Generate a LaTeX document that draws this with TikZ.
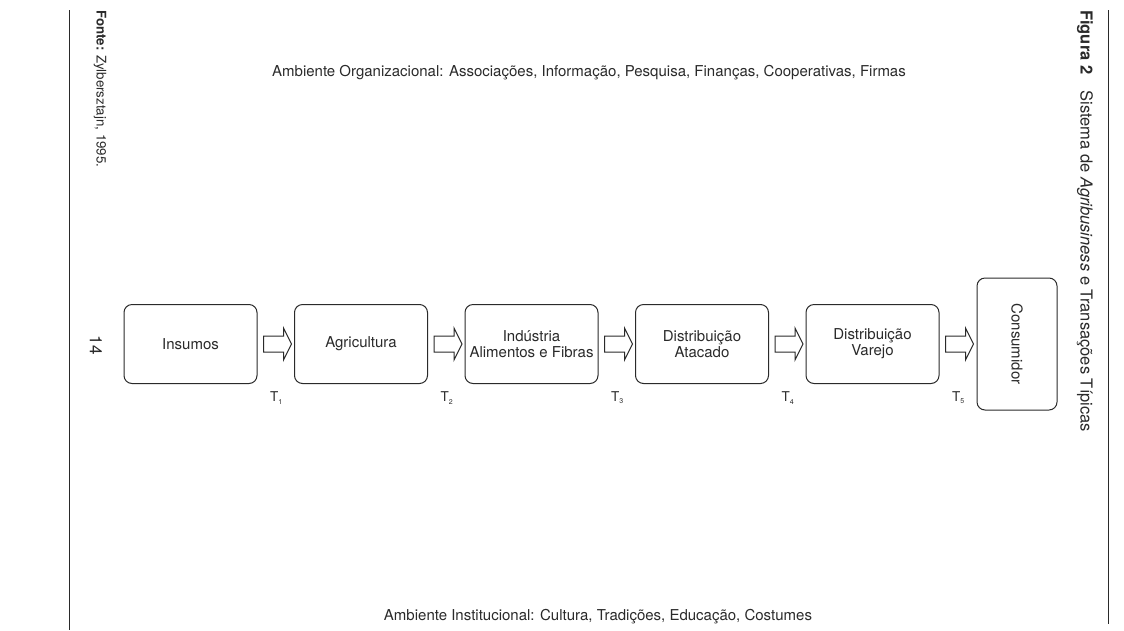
\documentclass[tikz,border=0pt]{standalone}
\usepackage{fontspec}
\setmainfont{TeX Gyre Heros}
\usetikzlibrary{calc}
\definecolor{ink}{HTML}{2A2A2A}
\tikzset{
  stage/.style={draw=ink, line width=1pt, rounded corners=8pt,
    minimum width=133pt, minimum height=79pt, inner sep=1pt,
    align=center, font=\fontsize{15}{17}\selectfont, text=ink},
  flowarrow/.style={draw=ink, line width=1pt, fill=white},
  tlabel/.style={font=\fontsize{13.5}{15}\selectfont, text=ink, inner sep=0pt},
  envtext/.style={font=\fontsize{15}{17}\selectfont, text=ink, inner sep=0pt},
  sidetext/.style={rotate=-90, text=ink, inner sep=0pt},
  rule/.style={draw=ink, line width=1pt}
}
\begin{document}
\begin{tikzpicture}[x=1pt,y=-1pt]
\useasboundingbox (0,0) rectangle (1124,630);

% page rules and margin texts
\coordinate (lt) at (69,10);
\coordinate (lb) at (69,630);
\coordinate (rt) at (1108,10);
\coordinate (rb) at (1108,624);
\draw[rule] (lt) -- (lb);
\draw[rule] (rt) -- (rb);
\node[sidetext, anchor=west, font=\fontsize{13.3}{15}\selectfont] (fonte) at (100,10)
  {\textbf{Fonte:} Zylbersztajn, 1995.};
\node[sidetext, font=\fontsize{17}{19}\selectfont] (page) at (96,345) {14};
\node[sidetext, anchor=west, font=\fontsize{16.5}{19}\selectfont] (fig) at (1085,10)
  {\textbf{Figura 2}\hspace{0.7em} Sistema de \textit{Agribusiness} e Transações Típicas};

% environments
\node[envtext] (org) at (589,73)
  {Ambiente Organizacional: Associações, Informação, Pesquisa, Finanças, Cooperativas, Firmas};
\node[envtext] (inst) at (598,617)
  {Ambiente Institucional: Cultura, Tradições, Educação, Costumes};

% chain stages
\node[stage] (b1) at (190.5,344) {Insumos};
\node[stage] (b2) at (361,344) {Agricultura};
\node[stage] (b3) at (531.5,344) {Indústria\\[-1pt]Alimentos e Fibras};
\node[stage] (b4) at (702,344) {Distribuição\\[-1pt]Atacado};
\node[stage] (b5) at (872.5,344) {Distribuição\\[-1pt]Varejo};
\node[stage, minimum width=80pt, minimum height=132pt] (b6) at (1017,344) {};
\node[rotate=-90, font=\fontsize{15}{17}\selectfont, text=ink] (b6t) at (b6.center) {Consumidor};

% hollow transfer arrows and transaction labels
\foreach \a/\b/\k in {b1/b2/1, b2/b3/2, b3/b4/3, b4/b5/4, b5/b6/5}{
  \draw[flowarrow] ($(\a.east)+(6,-8)$) -- ++(20,0) -- ++(0,-8) -- ++(8,16)
    -- ++(-8,16) -- ++(0,-8) -- ++(-20,0) -- cycle;
  \node[tlabel] (t\k) at ($(\a.east)+(19,54)$) {T\textsubscript{\scriptsize\k}};
}
\end{tikzpicture}
\end{document}
